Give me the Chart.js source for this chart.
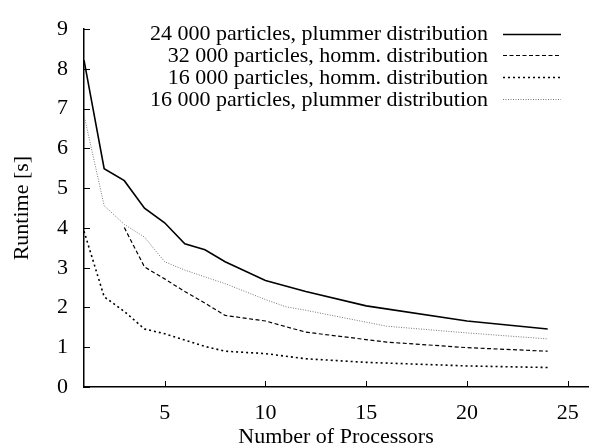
<!DOCTYPE html>
<html>
<head>
    <meta charset="UTF-8">
    <title>Runtime vs processors</title>
    <script src="https://cdn.jsdelivr.net/npm/chart.js"></script>
    <style>
        html, body { margin: 0; padding: 0; background: #fff; }
        #wrap { width: 596px; height: 448px; }
    </style>
</head>
<body>
    <div id="wrap"><canvas id="runtimeChart"></canvas></div>

    <script>
        // data
        const seriesLabels = [
            '24 000 particles, plummer distribution',
            '32 000 particles, homm. distribution',
            '16 000 particles, homm. distribution',
            '16 000 particles, plummer distribution'
        ];
        const plummer24x = [1, 2, 3, 4, 5, 6, 7, 8, 10, 12, 15, 20, 24];
        const plummer24y = [8.22, 5.49, 5.19, 4.5, 4.13, 3.6, 3.45, 3.15, 2.68, 2.4, 2.04, 1.66, 1.46];
        const homm32x = [3, 4, 5, 6, 7, 8, 10, 12, 16, 20, 24];
        const homm32y = [4.01, 3.02, 2.72, 2.4, 2.11, 1.8, 1.66, 1.38, 1.13, 0.99, 0.9];
        const homm16x = [1, 2, 3, 4, 5, 6, 7, 8, 10, 12, 15, 20, 24];
        const homm16y = [3.92, 2.27, 1.9, 1.46, 1.34, 1.18, 1.02, 0.9, 0.84, 0.71, 0.62, 0.53, 0.49];
        const plummer16x = [1, 2, 3, 4, 5, 6, 8, 10, 11, 12, 16, 20, 24];
        const plummer16y = [6.84, 4.56, 4.09, 3.77, 3.15, 2.94, 2.6, 2.2, 2.02, 1.93, 1.53, 1.36, 1.21];
        const xTickValues = [5, 10, 15, 20, 25];
        const yTickValues = [0, 1, 2, 3, 4, 5, 6, 7, 8, 9];

        const FONT = "'Liberation Serif', 'Times New Roman', serif";
        const FONT_SIZE = 22;

        function pairs(xs, ys) {
            return xs.map((x, i) => ({ x: x, y: ys[i] }));
        }

        // gnuplot style ticks pointing into the plot
        const innerTicks = {
            id: 'innerTicks',
            afterDraw(chart) {
                const ctx = chart.ctx;
                const xs = chart.scales.x, ys = chart.scales.y;
                const area = chart.chartArea;
                ctx.save();
                ctx.strokeStyle = '#000';
                ctx.lineWidth = 1;
                ys.ticks.forEach(t => {
                    const py = Math.round(ys.getPixelForValue(t.value)) + 0.5;
                    ctx.beginPath();
                    ctx.moveTo(area.left, py);
                    ctx.lineTo(area.left + 6, py);
                    ctx.stroke();
                });
                xs.ticks.forEach(t => {
                    const px = Math.round(xs.getPixelForValue(t.value)) + 0.5;
                    ctx.beginPath();
                    ctx.moveTo(px, area.bottom);
                    ctx.lineTo(px, area.bottom - 6);
                    ctx.stroke();
                });
                ctx.restore();
            }
        };

        // legend: text right aligned, line sample on the right
        const sideLegend = {
            id: 'sideLegend',
            afterDraw(chart) {
                const ctx = chart.ctx;
                ctx.save();
                ctx.font = FONT_SIZE + 'px ' + FONT;
                ctx.textAlign = 'right';
                ctx.textBaseline = 'middle';
                chart.data.datasets.forEach((ds, i) => {
                    const y = 33.5 + i * 21.8;
                    ctx.fillStyle = '#000';
                    ctx.fillText(ds.label, 488, y + 1);
                    ctx.beginPath();
                    ctx.setLineDash(ds.borderDash || []);
                    ctx.strokeStyle = ds.borderColor;
                    ctx.lineWidth = ds.borderWidth;
                    ctx.moveTo(503, Math.round(y) + 0.5);
                    ctx.lineTo(561, Math.round(y) + 0.5);
                    ctx.stroke();
                });
                ctx.restore();
            }
        };

        const ctx = document.getElementById('runtimeChart').getContext('2d');
        new Chart(ctx, {
            type: 'line',
            data: {
                datasets: [
                    {
                        label: seriesLabels[0],
                        data: pairs(plummer24x, plummer24y),
                        borderColor: '#000',
                        borderWidth: 1.6
                    },
                    {
                        label: seriesLabels[1],
                        data: pairs(homm32x, homm32y),
                        borderColor: '#000',
                        borderWidth: 1.2,
                        borderDash: [4, 2.5]
                    },
                    {
                        label: seriesLabels[2],
                        data: pairs(homm16x, homm16y),
                        borderColor: '#000',
                        borderWidth: 1.6,
                        borderDash: [2, 3]
                    },
                    {
                        label: seriesLabels[3],
                        data: pairs(plummer16x, plummer16y),
                        borderColor: '#777',
                        borderWidth: 1,
                        borderDash: [1, 1.5]
                    }
                ]
            },
            options: {
                responsive: true,
                maintainAspectRatio: false,
                animation: false,
                devicePixelRatio: 1,
                layout: { padding: { top: 16, right: 8, left: 0, bottom: 0 } },
                elements: {
                    point: { radius: 0 },
                    line: { tension: 0, fill: false }
                },
                plugins: {
                    legend: { display: false },
                    tooltip: { enabled: false }
                },
                scales: {
                    x: {
                        type: 'linear',
                        min: 1,
                        max: 26,
                        afterBuildTicks: scale => {
                            scale.ticks = xTickValues.map(v => ({ value: v }));
                        },
                        afterFit: scale => { scale.height = 61; },
                        grid: { display: true, drawOnChartArea: false, drawTicks: false },
                        border: { display: true, color: '#000', width: 1.5 },
                        ticks: {
                            color: '#000',
                            font: { family: FONT, size: FONT_SIZE },
                            padding: 13,
                            maxRotation: 0
                        },
                        title: {
                            display: true,
                            text: 'Number of Processors',
                            color: '#000',
                            font: { family: FONT, size: FONT_SIZE },
                            padding: { top: 0, bottom: -2 }
                        }
                    },
                    y: {
                        min: 0,
                        max: 9,
                        afterBuildTicks: scale => {
                            scale.ticks = yTickValues.map(v => ({ value: v }));
                        },
                        afterFit: scale => { scale.width = 84; },
                        grid: { display: true, drawOnChartArea: false, drawTicks: false },
                        border: { display: true, color: '#000', width: 1.5 },
                        ticks: {
                            color: '#000',
                            font: { family: FONT, size: FONT_SIZE },
                            padding: 16
                        },
                        title: {
                            display: true,
                            text: 'Runtime [s]',
                            color: '#000',
                            font: { family: FONT, size: FONT_SIZE },
                            padding: { top: 9, bottom: 0 }
                        }
                    }
                }
            },
            plugins: [innerTicks, sideLegend]
        });
    </script>
</body>
</html>
